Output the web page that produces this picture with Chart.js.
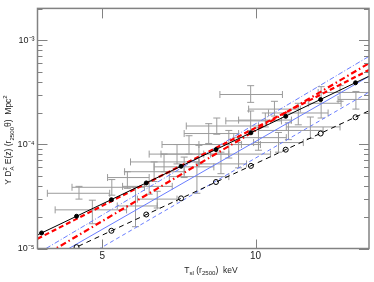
<!DOCTYPE html>
<html>
<head>
<meta charset="utf-8">
<script src="https://cdn.jsdelivr.net/npm/chart.js@4.4.1/dist/chart.umd.min.js"></script>
<style>
  html, body { margin: 0; padding: 0; background: #fff; }
</style>
</head>
<body>
<canvas id="chart" width="374" height="282"></canvas>
<script>
// axes
const xTicks = [5, 10]
const yTicks = [1e-5, 1e-4, 1e-3]
const yTickLabels = ['10⁻⁵', '10⁻⁴', '10⁻³']
const xRange = [3.73, 16.7]
const yRange = [1e-5, 2.02e-3]

// observed clusters (centre, then error bar ends)
const tObs   = [4.50, 4.78, 5.60, 5.81, 6.18, 6.32, 6.61, 7.40, 7.74, 8.39, 9.78, 10.45, 9.78, 13.45, 14.65, 15.74, 12.13, 11.60, 8.09, 8.86, 7.01, 5.22, 7.67, 9.26, 11.09, 12.81, 6.41, 10.89, 8.55, 7.24, 10.13]
const tObsLo = [3.90, 4.04, 5.12, 5.35, 5.48, 5.53, 5.68, 6.55, 6.52, 7.31, 8.74, 9.26, 8.51, 12.69, 13.27, 14.52, 10.60, 10.13, 7.24, 7.74, 6.18, 4.36, 6.77, 8.16, 9.91, 11.49, 5.86, 9.69, 7.74, 6.32, 9.06]
const tObsHi = [5.17, 5.58, 6.18, 6.41, 6.86, 7.24, 7.74, 9.38, 8.86, 10.13, 11.24, 11.76, 11.29, 14.72, 16.76, 16.76, 13.88, 13.57, 9.26, 10.22, 7.91, 6.05, 8.86, 10.70, 12.41, 14.65, 7.01, 12.24, 9.60, 8.28, 11.49]
const yObs   = [3.39e-5, 2.35e-5, 4.80e-5, 2.56e-5, 3.95e-5, 5.46e-5, 6.78e-5, 9.96e-5, 8.06e-5, 1.50e-4, 1.68e-4, 1.71e-4, 3.01e-4, 2.48e-4, 3.15e-4, 2.70e-4, 2.00e-4, 1.36e-4, 1.27e-4, 9.96e-5, 8.06e-5, 3.87e-5, 4.90e-5, 8.06e-5, 1.04e-4, 1.47e-4, 2.98e-5, 2.18e-4, 6.49e-5, 6.08e-5, 1.16e-4]
const yObsLo = [2.98e-5, 1.73e-5, 3.78e-5, 1.62e-5, 3.32e-5, 4.40e-5, 5.46e-5, 8.06e-5, 6.49e-5, 1.25e-4, 1.36e-4, 1.47e-4, 2.53e-4, 1.79e-4, 2.59e-4, 2.18e-4, 1.54e-4, 1.11e-4, 1.02e-4, 7.39e-5, 6.49e-5, 3.25e-5, 3.39e-5, 5.95e-5, 8.41e-5, 1.14e-4, 2.45e-5, 1.87e-4, 5.23e-5, 4.80e-5, 8.78e-5]
const yObsHi = [3.95e-5, 2.91e-5, 5.46e-5, 3.87e-5, 4.40e-5, 6.78e-5, 8.06e-5, 1.21e-4, 9.78e-5, 1.79e-4, 2.09e-4, 2.00e-4, 3.66e-4, 3.58e-4, 3.66e-4, 3.22e-4, 2.48e-4, 1.61e-4, 1.58e-4, 1.36e-4, 9.96e-5, 4.59e-5, 6.78e-5, 1.04e-4, 1.30e-4, 1.83e-4, 3.54e-5, 2.59e-4, 8.41e-5, 7.55e-5, 1.44e-4]

// simulated clusters
const tSim  = [3.80, 4.45, 5.21, 6.10, 7.14, 8.36, 9.79, 11.46, 13.42, 15.71]
const ySim  = [1.41e-5, 2.04e-5, 2.94e-5, 4.26e-5, 6.16e-5, 8.90e-5, 1.29e-4, 1.86e-4, 2.69e-4, 3.90e-4]
const tSim2 = [4.45, 5.21, 6.10, 7.14, 8.36, 9.79, 11.46, 13.42, 15.71]
const ySim2 = [1.03e-5, 1.48e-5, 2.12e-5, 3.03e-5, 4.35e-5, 6.21e-5, 8.89e-5, 1.27e-4, 1.82e-4]

// fitted relations, at both ends of the temperature range
const tFit       = [3.73, 16.7]
const yFitSim    = [1.35e-5, 4.51e-4]
const yFitSim2   = [6.9e-6, 2.10e-4]
const yFitRed    = [1.24e-5, 5.17e-4]
const yFitRed2   = [7.85e-6, 6.01e-4]
const yFitBlue   = [6.72e-6, 4.49e-4]
const yFitBlueHi = [8.94e-6, 7.00e-4]
const yFitBlueLo = [4.49e-6, 3.17e-4]

const FONT = 'Liberation Sans, Arial, Helvetica, sans-serif'
const GREY = 'rgb(155,155,155)'
const BLUE = 'rgb(105,125,255)'

const pts = (xs, ys) => xs.map((x, i) => ({ x: x, y: ys[i] }))

// error bars as broken polylines
const errH = [], errV = []
tObs.forEach((t, i) => {
  errH.push({ x: tObsLo[i], y: yObs[i] }, { x: tObsHi[i], y: yObs[i] }, { x: t, y: null })
  errV.push({ x: t, y: yObsLo[i] }, { x: t, y: yObsHi[i] }, { x: t, y: null })
})

const fitLine = (ys, color, width, dash) => ({
  data: pts(tFit, ys), showLine: true, borderColor: color, borderWidth: width,
  borderDash: dash, pointRadius: 0, clip: 0
})

// draw a string made of normal, super- and subscript pieces
function richText(ctx, parts, size) {
  const small = size * 0.72
  const w = parts.map(p => {
    if (p.sup !== undefined) {
      ctx.font = small + 'px ' + FONT
      return Math.max(ctx.measureText(p.sup).width, ctx.measureText(p.sub).width)
    }
    ctx.font = (p.s ? small : size) + 'px ' + FONT
    return ctx.measureText(p.t).width
  })
  let x = -w.reduce((a, b) => a + b, 0) / 2
  parts.forEach((p, i) => {
    if (p.sup !== undefined) {
      ctx.font = small + 'px ' + FONT
      ctx.fillText(p.sup, x, -size * 0.42)
      ctx.fillText(p.sub, x, size * 0.3)
    } else {
      ctx.font = (p.s ? small : size) + 'px ' + FONT
      ctx.fillText(p.t, x, p.s === 1 ? -size * 0.42 : p.s === -1 ? size * 0.3 : 0)
    }
    x += w[i]
  })
}

const frameTicks = {
  id: 'frameTicks',
  afterDraw(chart) {
    const { ctx, chartArea: a, scales: { x, y } } = chart
    ctx.save()
    ctx.strokeStyle = 'rgb(130,130,130)'
    ctx.lineWidth = 1
    ctx.beginPath()
    xTicks.forEach(v => {
      const p = Math.round(x.getPixelForValue(v)) + 0.5
      ctx.moveTo(p, a.bottom); ctx.lineTo(p, a.bottom - 9)
      ctx.moveTo(p, a.top); ctx.lineTo(p, a.top + 10)
    })
    for (let d = -5; d <= -3; d++) {
      for (let m = 1; m <= 9; m++) {
        const v = m * Math.pow(10, d)
        if (v > y.max) continue
        const p = Math.round(y.getPixelForValue(v)) + 0.5
        const len = m === 1 ? 10 : 5
        ctx.moveTo(a.left, p); ctx.lineTo(a.left + len, p)
        ctx.moveTo(a.right, p); ctx.lineTo(a.right - len, p)
      }
    }
    ctx.stroke()
    ctx.lineWidth = 1.5
    ctx.strokeRect(a.left, a.top, a.right - a.left, a.bottom - a.top)

    ctx.fillStyle = '#222'
    ctx.textBaseline = 'alphabetic'
    ctx.textAlign = 'left'
    ctx.save()
    ctx.translate(211, 272.5)
    richText(ctx, [{ t: 'T' }, { t: 'sl', s: -1 }, { t: ' (r' }, { t: '2500', s: -1 }, { t: ')  keV' }], 8.5)
    ctx.restore()
    ctx.save()
    ctx.translate(11, 140)
    ctx.rotate(-Math.PI / 2)
    richText(ctx, [{ t: 'Y D' }, { sup: '2', sub: 'A' }, { t: ' E(z) (r' }, { t: '2500', s: -1 }, { t: 'θ)  Mpc' }, { t: '2', s: 1 }], 8.5)
    ctx.restore()
    ctx.restore()
  }
}

new Chart(document.getElementById('chart'), {
  type: 'scatter',
  data: {
    datasets: [
      { data: pts(tSim, ySim), pointRadius: 2, pointBackgroundColor: '#000', pointBorderColor: '#000', pointBorderWidth: 1 },
      { data: pts(tSim2, ySim2), pointRadius: 2.5, pointBackgroundColor: 'rgba(255,255,255,0)', pointBorderColor: '#000', pointBorderWidth: 1 },
      fitLine(yFitSim, '#000', 1, []),
      fitLine(yFitSim2, '#000', 1, [5, 4]),
      fitLine(yFitRed, '#f00', 2.2, [5, 3]),
      fitLine(yFitRed2, '#f00', 2.2, [6, 3, 1.5, 3]),
      fitLine(yFitBlue, BLUE, 1, []),
      fitLine(yFitBlueHi, BLUE, 1, [5, 2, 1, 2]),
      fitLine(yFitBlueLo, BLUE, 1, [4, 3]),
      { data: errH, showLine: true, spanGaps: false, borderColor: GREY, borderWidth: 1, clip: 0,
        pointStyle: 'line', rotation: 90, pointRadius: 3.5, pointBorderColor: GREY, pointBorderWidth: 1 },
      { data: errV, showLine: true, spanGaps: false, borderColor: GREY, borderWidth: 1, clip: 0,
        pointStyle: 'line', rotation: 0, pointRadius: 3.5, pointBorderColor: GREY, pointBorderWidth: 1 }
    ]
  },
  options: {
    responsive: false,
    animation: false,
    devicePixelRatio: 1,
    layout: { padding: { top: 3, right: 2.5, left: 0, bottom: 0 } },
    plugins: { legend: { display: false }, tooltip: { enabled: false } },
    scales: {
      x: {
        type: 'logarithmic', min: xRange[0], max: xRange[1],
        border: { display: false }, grid: { display: false, drawTicks: false },
        afterBuildTicks: s => { s.ticks = xTicks.map(v => ({ value: v })) },
        afterFit: s => { s.height = 33.5 },
        ticks: { autoSkip: false, maxRotation: 0, padding: 2, color: '#222', font: { family: FONT, size: 10 },
          callback: v => String(v) }
      },
      y: {
        type: 'logarithmic', min: yRange[0], max: yRange[1],
        border: { display: false }, grid: { display: false, drawTicks: false },
        afterBuildTicks: s => { s.ticks = yTicks.map(v => ({ value: v })) },
        afterFit: s => { s.width = 37.5 },
        ticks: { autoSkip: false, padding: 3, color: '#222', font: { family: FONT, size: 9 },
          callback: (v, i) => yTickLabels[i] }
      }
    }
  },
  plugins: [frameTicks]
})
</script>
</body>
</html>
